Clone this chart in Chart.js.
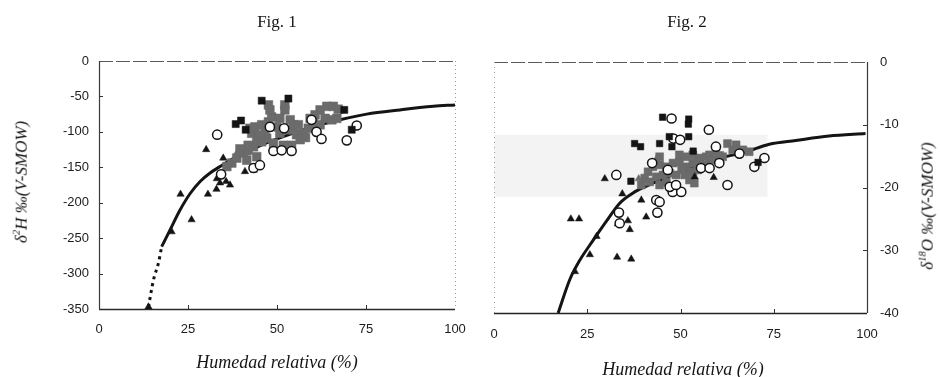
<!DOCTYPE html>
<html>
<head>
<meta charset="utf-8">
<script src="https://cdn.jsdelivr.net/npm/chart.js@4.4.1/dist/chart.umd.min.js"></script>
<style>
  body { margin: 0; background: #fff; }
  #wrap { position: relative; width: 940px; height: 377px; overflow: hidden; }
  .panel { position: absolute; top: 0; width: 470px; height: 377px; }
  .lbl {
    position: absolute; white-space: nowrap; color: #151515;
    font-family: 'Liberation Serif', 'Times New Roman', serif;
    transform: translate(-50%, -50%);
  }
  .fig { font-size: 17px; }
  .xt { font-size: 18px; font-style: italic; }
  .yt { font-size: 17px; font-style: italic; transform: translate(-50%, -50%) rotate(-90deg); }
  .yt sup { font-size: 0.62em; }
</style>
</head>
<body>
<div id="wrap">
  <div class="panel" style="left:0"><canvas id="fig1" width="470" height="377"></canvas></div>
  <div class="panel" style="left:470px"><canvas id="fig2" width="470" height="377"></canvas></div>

  <div class="lbl fig" style="left:277px; top:22px">Fig. 1</div>
  <div class="lbl fig" style="left:687px; top:22px">Fig. 2</div>
  <div class="lbl xt" style="left:277px; top:362px">Humedad relativa (%)</div>
  <div class="lbl xt" style="left:683px; top:369px">Humedad relativa (%)</div>
  <div class="lbl yt" style="left:21px; top:182px">δ<sup>2</sup>H ‰(V-SMOW)</div>
  <div class="lbl yt" style="left:927px; top:206px">δ<sup>18</sup>O ‰(V-SMOW)</div>
</div>

<script>
// ---- Fig. 1 : δ2H vs humedad relativa ----
const f1CurveDotX = [13.9, 15.3, 16.7, 17.6];
const f1CurveDotY = [-347, -309, -285, -262];
const f1CurveX = [17.6, 19.9, 22.8, 25.6, 28.4, 31.2, 34.0, 36.8, 40, 45, 50, 55, 60, 67.7, 75.2, 84.6, 93.9, 100];
const f1CurveY = [-262, -239, -210, -187, -170, -158, -149, -140, -132, -120, -110, -101, -93, -83, -75, -69, -64, -62];

const f1TriX = [30.1, 22.9, 30.6, 26.0, 20.4, 33.0, 33.1, 34.0, 35.7, 36.8, 34.9, 41.0, 43.5, 13.9];
const f1TriY = [-125, -188, -188, -224, -241, -181, -166, -172, -170, -175, -137, -156, -154, -347];

const f1GreyTriX = [38.7, 41.5, 36.5];
const f1GreyTriY = [-130, -130, -145];

const f1CircX = [33.2, 34.3, 43.4, 45.2, 48.0, 52.0, 49.0, 51.3, 54.1, 61.1, 62.5, 69.6, 72.4, 59.7];
const f1CircY = [-104, -160, -151, -147, -93, -95, -127, -126, -127, -100, -110, -112, -91, -83];

const f1BlkSqX = [45.7, 53.2, 38.4, 39.9, 41.2, 68.9, 71.0];
const f1BlkSqY = [-56, -53, -89, -84, -97, -69, -97];

const f1GreySqX = [37.3, 38.7, 40.5, 41.9, 43.4, 44.3, 42.9, 42.4, 43.8, 45.7, 47.6, 48.5, 48.0, 47.6,
  52.2, 52.2, 50.8, 49.9, 50.8, 52.7, 54.6, 55.5, 47.1, 45.7, 49.0, 51.8, 54.1, 56.5, 57.4, 58.8,
  60.2, 59.3, 60.7, 62.1, 64.0, 65.8, 67.2, 63.5, 65.4, 66.8, 62.1, 35.9, 41.5, 44.3, 46.6, 53.7,
  54.6, 41.9, 39.6, 45.0, 56.0, 58.0];
const f1GreySqY = [-144, -137, -130, -126, -121, -111, -102, -95, -93, -90, -86, -79, -69, -62,
  -62, -69, -81, -93, -102, -97, -97, -104, -109, -114, -116, -119, -119, -111, -102, -95,
  -88, -81, -76, -69, -64, -64, -68, -81, -83, -81, -90, -149, -140, -135, -102, -83,
  -90, -119, -124, -105, -90, -108];

// ---- Fig. 2 : δ18O vs humedad relativa ----
const f2CurveX = [17.2, 20.3, 23.0, 26.6, 30.1, 33.7, 37.2, 40.4, 45, 50, 55, 60, 67.6, 73.8, 80.9, 89.8, 99.6];
const f2CurveY = [-40, -34.7, -31.6, -28.4, -25.4, -22.5, -20.9, -19.9, -18.7, -17.5, -16.4, -15.4, -14.3, -13.1, -12.5, -11.8, -11.4];

const f2TriX = [29.7, 20.6, 22.8, 25.7, 33.0, 36.8, 27.5, 21.7, 34.4, 39.5, 40.8, 33.2, 35.9, 36.4, 58.9, 53.8];
const f2TriY = [-18.6, -25.0, -25.0, -30.7, -31.1, -31.4, -27.8, -33.4, -21.0, -22.0, -24.7, -25.8, -25.3, -26.7, -18.4, -18.3];

const f2GreyTriX = [38.8, 43.5];
const f2GreyTriY = [-18.6, -15.5];

const f2CircX = [47.6, 57.6, 48.1, 49.9, 59.5, 32.8, 62.6, 69.8, 72.5, 33.5, 33.7, 43.5, 44.4, 43.8,
  42.4, 47.9, 50.2, 47.1, 48.8, 55.5, 57.8, 60.4, 65.8, 46.6];
const f2CircY = [-9.0, -10.8, -12.2, -12.4, -13.5, -18.0, -19.6, -16.7, -15.3, -24.0, -25.7, -22.0, -22.3, -24.0,
  -16.1, -20.7, -20.7, -19.9, -19.6, -16.9, -16.9, -16.1, -14.6, -17.2];

const f2BlkSqX = [45.2, 52.2, 52.1, 37.7, 39.3, 44.4, 47.0, 47.7, 52.2, 53.4, 36.7, 70.8];
const f2BlkSqY = [-8.8, -9.1, -9.9, -13.0, -13.5, -13.0, -11.9, -13.5, -11.9, -14.2, -19.0, -16.0];

const f2GreySqX = [41.3, 42.6, 44.4, 46.2, 48.0, 49.7, 51.5, 53.3, 55.1, 56.9, 40.4, 41.7, 43.5, 45.3,
  47.1, 48.8, 51.1, 52.9, 54.6, 56.4, 39.5, 44.4, 46.2, 44.4, 49.7, 53.3, 51.5, 55.1, 57.8, 59.5,
  62.6, 64.9, 64.0, 66.7, 68.4, 61.3, 54.2, 56.9, 53.3, 52.4, 53.7, 58.6, 60.5, 50.3];
const f2GreySqY = [-17.5, -16.7, -16.4, -16.7, -16.1, -15.9, -16.7, -16.1, -15.6, -15.1, -18.5, -19.1, -18.3, -18.0,
  -17.7, -18.0, -18.0, -17.5, -17.2, -16.7, -19.6, -19.6, -19.1, -15.1, -14.8, -14.8, -15.1, -15.3, -14.8, -14.3,
  -13.0, -13.2, -14.0, -14.0, -14.3, -15.1, -16.1, -16.4, -17.5, -18.8, -19.3, -15.6, -14.9, -17.0];

const humTicks = [0, 25, 50, 75, 100];

function pts(xs, ys) {
  return xs.map((x, i) => ({ x: x, y: ys[i] }));
}

// caja del gráfico: cada lado con su propio trazo, y marcas interiores
const framePlugin = {
  id: 'frame',
  beforeDatasetsDraw(chart, args, opts) {
    const { ctx, chartArea: a, scales } = chart;
    ctx.save();
    if (opts.band) {
      const b = opts.band;
      const x0 = scales.x.getPixelForValue(b.x0), x1 = scales.x.getPixelForValue(b.x1);
      const y0 = scales.y.getPixelForValue(b.y0), y1 = scales.y.getPixelForValue(b.y1);
      ctx.fillStyle = b.color;
      ctx.fillRect(x0, y0, x1 - x0, y1 - y0);
    }
    const side = (s, x0, y0, x1, y1) => {
      ctx.beginPath();
      ctx.strokeStyle = s.color;
      ctx.lineWidth = s.width || 1;
      ctx.setLineDash(s.dash || []);
      ctx.moveTo(x0, y0);
      ctx.lineTo(x1, y1);
      ctx.stroke();
    };
    side(opts.top, a.left, a.top + 0.5, a.right, a.top + 0.5);
    side(opts.bottom, a.left, a.bottom + 0.5, a.right, a.bottom + 0.5);
    side(opts.left, a.left + 0.5, a.top, a.left + 0.5, a.bottom);
    side(opts.right, a.right + 0.5, a.top, a.right + 0.5, a.bottom);

    ctx.setLineDash([]);
    ctx.strokeStyle = '#333';
    ctx.lineWidth = 1;
    ctx.beginPath();
    [25, 50, 75].forEach(v => {
      const px = Math.round(scales.x.getPixelForValue(v)) + 0.5;
      ctx.moveTo(px, a.bottom);
      ctx.lineTo(px, a.bottom - 4);
    });
    (opts.yMarks || []).forEach(v => {
      const py = Math.round(scales.y.getPixelForValue(v)) + 0.5;
      const edge = opts.yMarkSide === 'right' ? a.right : a.left;
      const dir = opts.yMarkSide === 'right' ? -1 : 1;
      ctx.moveTo(edge, py);
      ctx.lineTo(edge + dir * 4, py);
    });
    ctx.stroke();
    ctx.restore();
  }
};

const tickFont = { family: "'Liberation Sans', Arial, sans-serif", size: 13 };
const inkBlack = '#141414';
const inkGrey = '#6b6b6b';

function markers(xs, ys, style, fill, border, radius, order) {
  return {
    data: pts(xs, ys),
    pointStyle: style,
    pointRadius: radius,
    pointBackgroundColor: fill,
    pointBorderColor: border,
    pointBorderWidth: style === 'circle' ? 1.5 : 0.5,
    order: order
  };
}

function curve(xs, ys, dash, order) {
  return {
    data: pts(xs, ys),
    showLine: true,
    borderColor: inkBlack,
    borderWidth: 3,
    borderDash: dash,
    cubicInterpolationMode: 'monotone',
    pointRadius: 0,
    order: order
  };
}

function buildChart(id, cfg) {
  return new Chart(document.getElementById(id), {
    type: 'scatter',
    data: { datasets: cfg.datasets },
    options: {
      responsive: false,
      animation: false,
      devicePixelRatio: 1,
      layout: { padding: cfg.padding },
      plugins: {
        legend: { display: false },
        tooltip: { enabled: false },
        frame: cfg.frame
      },
      scales: {
        x: {
          type: 'linear', min: 0, max: 100,
          afterBuildTicks: s => { s.ticks = humTicks.map(v => ({ value: v })); },
          ticks: { font: tickFont, color: '#1c1c1c', padding: cfg.xPad, maxRotation: 0 },
          grid: { display: false, drawTicks: false },
          border: { display: false },
          afterFit: s => {
            s.height = cfg.xHeight;
            // las etiquetas extremas pueden salir del área: sin reserva lateral
            s.paddingLeft = 0;
            s.paddingRight = 0;
          }
        },
        y: {
          type: 'linear', min: cfg.yMin, max: 0, position: cfg.yPos,
          ticks: { stepSize: cfg.yStep, font: tickFont, color: '#1c1c1c', padding: cfg.yPad },
          grid: { display: false, drawTicks: false },
          border: { display: false },
          afterFit: s => {
            s.width = cfg.yWidth;
            s.paddingTop = 0;
            s.paddingBottom = 0;
          }
        }
      }
    },
    plugins: [framePlugin]
  });
}

buildChart('fig1', {
  padding: { left: 0, top: 61, right: 15, bottom: 0 },
  xHeight: 68, yWidth: 99, xPad: 13, yPad: 10,
  yMin: -350, yStep: 50, yPos: 'left',
  frame: {
    top: { color: '#5a5a5a', dash: [14, 3] },
    bottom: { color: '#2a2a2a', width: 1.3 },
    left: { color: '#3a3a3a', width: 1.2 },
    right: { color: '#9a9a9a', dash: [1, 3] },
    yMarks: [-50, -100, -150, -200, -250, -300], yMarkSide: 'left'
  },
  datasets: [
    markers(f1BlkSqX, f1BlkSqY, 'rect', inkBlack, inkBlack, 5, 1),
    markers(f1CircX, f1CircY, 'circle', '#ffffff', inkBlack, 4.6, 2),
    markers(f1TriX, f1TriY, 'triangle', inkBlack, inkBlack, 4.2, 3),
    markers(f1GreyTriX, f1GreyTriY, 'triangle', inkGrey, inkGrey, 4.2, 4),
    markers(f1GreySqX, f1GreySqY, 'rect', inkGrey, inkGrey, 6.2, 5),
    curve(f1CurveX, f1CurveY, [], 6),
    curve(f1CurveDotX, f1CurveDotY, [3, 4], 6)
  ]
});

buildChart('fig2', {
  padding: { left: 24, top: 62, right: 0, bottom: 0 },
  xHeight: 64, yWidth: 73, xPad: 14, yPad: 13,
  yMin: -40, yStep: 10, yPos: 'right',
  frame: {
    band: { x0: 0, x1: 73.3, y0: -11.6, y1: -21.5, color: '#f3f3f3' },
    top: { color: '#5a5a5a', dash: [14, 3] },
    bottom: { color: '#222', width: 1.3 },
    left: { color: '#9a9a9a', dash: [1, 4] },
    right: { color: '#3a3a3a', width: 1.2 },
    yMarks: [-10, -20, -30], yMarkSide: 'right'
  },
  datasets: [
    markers(f2BlkSqX, f2BlkSqY, 'rect', inkBlack, inkBlack, 4.6, 1),
    markers(f2CircX, f2CircY, 'circle', '#ffffff', inkBlack, 4.6, 2),
    markers(f2TriX, f2TriY, 'triangle', inkBlack, inkBlack, 4.2, 3),
    markers(f2GreyTriX, f2GreyTriY, 'triangle', inkGrey, inkGrey, 4.2, 4),
    markers(f2GreySqX, f2GreySqY, 'rect', inkGrey, inkGrey, 5.6, 5),
    curve(f2CurveX, f2CurveY, [], 6)
  ]
});
</script>
</body>
</html>
